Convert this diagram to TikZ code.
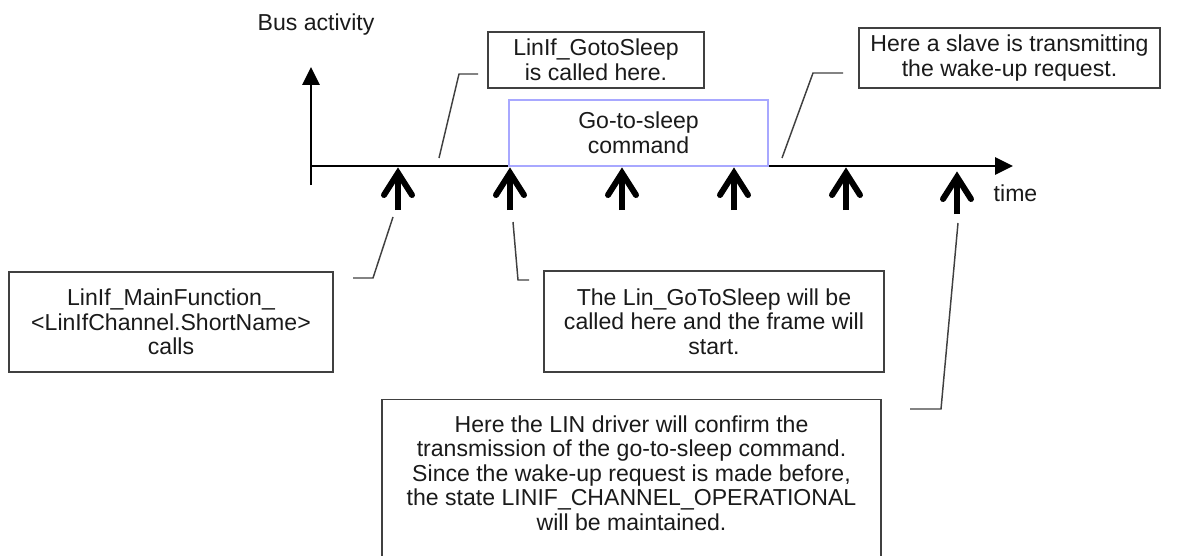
\documentclass[tikz,border=0pt]{standalone}
\usepackage{fontspec}
\setmainfont{Liberation Sans}
\usepackage{xcolor}
\usetikzlibrary{arrows.meta, positioning}

\definecolor{boxgray}{HTML}{404040}
\definecolor{cmdblue}{HTML}{A8A8FF}
\definecolor{inkgray}{HTML}{1A1A1A}
\newcommand{\notefont}{\fontsize{17.3}{18.4}\selectfont}

\tikzset{
  note/.style={draw=boxgray, line width=1.1pt, align=center, inner sep=0pt,
    font=\notefont, text=inkgray},
  leader/.style={draw=boxgray, line width=1.1pt},
  axis/.style={line width=1.4pt, -{Triangle[length=13.5pt, width=13pt]}},
  tickarrow/.style={line width=4.5pt, line cap=round, line join=miter}
}

\begin{document}
\begin{tikzpicture}[x=0.75pt, y=-0.75pt]
        \useasboundingbox (0,0) rectangle (1202,556);
        \clip (0,0) rectangle (1202,556);

        % axes
        \coordinate (origin) at (311,166);
        \draw[axis] (311,185) -- (311,67);
        \draw[axis] (origin) -- (1013,166);
        \node[anchor=base west, font=\notefont, text=inkgray] (busact) at (253,31) {Bus activity};
        \node[anchor=base west, font=\notefont, text=inkgray] (timelbl) at (989,201) {time};

        % frame on the bus
        \node[note, draw=cmdblue, minimum width=194.25pt, minimum height=49.5pt] (cmd) at (638.5,133) {Go-to-sleep\\command};

        % main function calls
        \foreach \x [count=\i] in {398,510,622,734,846} {
            \coordinate (call\i) at (\x,173);
            \draw[tickarrow, line cap=butt] (\x,210) -- (call\i);
            \draw[tickarrow] (\x-14,195) -- (call\i) -- (\x+14,195);
        }
        \coordinate (call6) at (957,177);
        \draw[tickarrow, line cap=butt] (957,214) -- (call6);
        \draw[tickarrow] (943,199) -- (call6) -- (971,199);

        % notes
        \node[note, minimum width=162pt, minimum height=42pt] (gotosleep) at (596,60) {LinIf\_GotoSleep\\is called here.};
        \node[note, minimum width=225.75pt, minimum height=45pt] (slave) at (1009.5,58) {Here a slave is transmitting\\the wake-up request.};
        \node[note, minimum width=243pt, minimum height=75pt] (mainfn) at (171,322) {LinIf\_MainFunction\_\\<LinIfChannel.ShortName>\\calls};
        \node[note, minimum width=255pt, minimum height=75.75pt] (lingoto) at (714,321.5) {The Lin\_GoToSleep will be\\called here and the frame will\\start.};
        \node[note, anchor=north, minimum width=374.25pt, minimum height=120pt, text depth=10pt] (confirm) at (631.5,399) {Here the LIN driver will confirm the\\transmission of the go-to-sleep command.\\Since the wake-up request is made before,\\the state LINIF\_CHANNEL\_OPERATIONAL\\will be maintained.};

        % leaders
        \coordinate (gs) at (439,158);
        \draw[leader] (gs) -- ++(20,-84) -- ++(19,0); % to gotosleep
        \coordinate (wk) at (782,158);
        \draw[leader] (wk) -- ++(31,-85) -- ++(30,0); % to slave
        \coordinate (mf) at (393,217);
        \draw[leader] (mf) -- ++(-20,61) -- ++(-20,0); % to mainfn
        \coordinate (lg) at (513,222);
        \draw[leader] (lg) -- ++(5,58) -- ++(11,0); % to lingoto
        \coordinate (cf) at (958,223);
        \draw[leader] (cf) -- ++(-17,186) -- ++(-31,0); % to confirm
\end{tikzpicture}
\end{document}
